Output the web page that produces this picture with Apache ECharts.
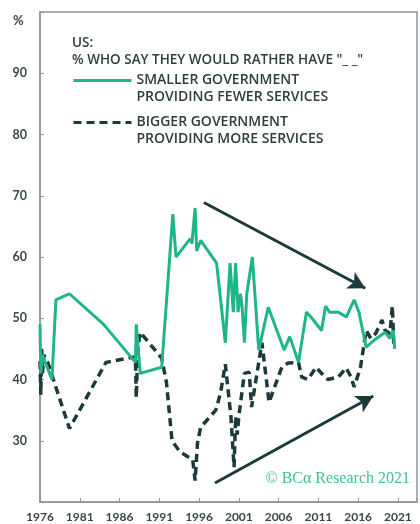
<!DOCTYPE html>
<html>
<head>
<meta charset="utf-8">
<script src="https://cdn.jsdelivr.net/npm/echarts@6/dist/echarts.min.js"></script>
<style>
  html, body { margin: 0; padding: 0; background: #fff; }
  #chart { width: 420px; height: 524px; }
</style>
</head>
<body>
<div id="chart"></div>
<script>
// smaller government, providing fewer services
var smallerYears = [1976.0, 1976.1, 1976.3, 1977.5, 1978.0, 1979.7, 1984.0, 1988.0, 1988.1, 1988.6,
  1991.3, 1992.7, 1993.1, 1994.9, 1995.1, 1995.5, 1995.7, 1996.2, 1998.2, 1999.3,
  1999.9, 2000.3, 2000.6, 2000.9, 2001.2, 2001.4, 2001.7, 2002.0, 2002.7, 2003.5,
  2004.7, 2006.7, 2007.4, 2008.5, 2009.5, 2010.2, 2011.4, 2011.9, 2012.4, 2013.5,
  2014.5, 2015.5, 2016.1, 2017.0, 2018.0, 2019.4, 2020.0, 2020.4, 2020.6]
var smallerValues = [49, 41, 44, 40, 53, 54, 49, 42.8, 49, 41,
  42, 67, 60, 63, 62.2, 68, 61, 62.7, 59, 46,
  59, 51, 59, 51, 54, 52, 46, 54, 60, 44.8,
  51.8, 44.8, 47, 42.8, 51, 50, 48, 52, 51, 51,
  50.2, 53, 51, 45.3, 46.4, 47.7, 46.7, 48, 45]

// bigger government, providing more services
var biggerYears = [1976.0, 1976.1, 1976.2, 1976.3, 1976.5, 1977.0, 1979.7, 1984.3, 1988.0, 1988.1,
  1988.3, 1988.6, 1991.3, 1991.9, 1992.6, 1993.6, 1995.2, 1995.5, 1995.8, 1996.2,
  1998.1, 1998.7, 1999.3, 2000.0, 2000.4, 2000.6, 2000.8, 2001.0, 2001.7, 2002.3,
  2002.6, 2003.9, 2004.8, 2006.4, 2007.2, 2008.5, 2008.9, 2009.7, 2010.7, 2011.4,
  2012.2, 2013.5, 2014.5, 2015.1, 2015.5, 2016.3, 2017.0, 2017.6, 2018.2, 2019.0,
  2019.4, 2020.0, 2020.3, 2020.5]
var biggerValues = [43, 37.5, 45, 41, 44, 42.7, 32, 42.8, 43.7, 37,
  45, 47.7, 43.5, 39.5, 30, 28.2, 26.9, 23.5, 29.6, 32.2,
  35, 37.8, 42.5, 34, 25.7, 34, 31, 34, 41, 41.2,
  35.5, 46, 36.3, 42, 42.7, 42.8, 40.4, 40, 42, 41,
  40, 40.4, 41.9, 40.4, 38.8, 42, 48, 46.7, 47.5, 49.7,
  48, 47.5, 52, 45]

var seriesNames = ["SMALLER GOVERNMENT\nPROVIDING FEWER SERVICES", "BIGGER GOVERNMENT\nPROVIDING MORE SERVICES"]

// trend arrows, [from, to] in [year, %]
var arrowDown = [[1996.6, 68.9], [2016.9, 54.9]]
var arrowUp = [[1998.0, 23.1], [2017.9, 37.3]]

var green = "#1fb589"
var dark = "#1c3a3a"
var axisGray = "#8c9898"
var labelColor = "#3a4848"
var textColor = "#2e3d3d"

function pairs(xs, ys){
    return xs.map(function(x, i){ return [x, ys[i]] })
}

// one legend per series so each can be placed on its own
function legendFor(name, top){
    return {
        orient: "vertical",
        left: 67,
        top: top,
        itemWidth: 58,
        itemHeight: 14,
        selectedMode: false,
        itemStyle: { opacity: 0 },
        lineStyle: { width: 3 },
        // blank first line pushes the label down so its first line sits on the icon
        formatter: function(n){ return " \n" + n },
        textStyle: {
            fontFamily: "Open Sans",
            fontWeight: 600,
            fontSize: 14,
            lineHeight: 17,
            color: textColor
        },
        data: [name]
    }
}

var chart = echarts.init(document.getElementById("chart"))
var option = {
    animation: false,
    title: {
        text: "US:\n% WHO SAY THEY WOULD RATHER HAVE \"_ _\"",
        left: 67,
        top: 30,
        textStyle: {
            fontFamily: "Open Sans",
            fontWeight: 600,
            fontSize: 13.5,
            lineHeight: 17,
            color: textColor
        }
    },
    legend: [legendFor(seriesNames[0], 50), legendFor(seriesNames[1], 92)],
    grid: {
        left: 40,
        right: -2,
        top: 12,
        bottom: 22,
        show: true,
        borderColor: axisGray,
        borderWidth: 1.5
    },
    xAxis: {
        type: "value",
        min: 1976,
        max: 2023.4,
        interval: 5,
        splitLine: { show: false },
        axisLine: { lineStyle: { color: axisGray, width: 1.5 } },
        axisTick: { inside: true, length: 4, lineStyle: { color: axisGray } },
        axisLabel: {
            margin: 9,
            fontFamily: "Lato",
            fontWeight: "bold",
            fontSize: 12,
            color: labelColor,
            formatter: function(v){ return (v - 1976) % 5 === 0 ? String(v) : "" }
        }
    },
    yAxis: {
        type: "value",
        min: 20,
        max: 100,
        interval: 10,
        splitLine: { show: false },
        axisLine: { show: true, lineStyle: { color: axisGray, width: 1.5 } },
        axisTick: { show: true, inside: true, length: 4, lineStyle: { color: axisGray } },
        axisLabel: {
            margin: 13,
            fontFamily: "Lato",
            fontWeight: "bold",
            fontSize: 12.5,
            color: labelColor,
            formatter: function(v){ return (v === 20 || v === 100) ? "" : v }
        }
    },
    graphic: [
        {
            type: "text",
            left: 13,
            top: 14,
            style: { text: "%", fontFamily: "Lato", fontWeight: "bold", fontSize: 13, fill: labelColor }
        },
        {
            type: "text",
            right: 10,
            top: 471,
            style: { text: "© BCα Research 2021", fontFamily: "Liberation Serif", fontSize: 16, fill: "#3fc195" }
        }
    ],
    series: [
        {
            name: seriesNames[0],
            type: "line",
            symbol: "none",
            z: 3,
            lineStyle: { color: green, width: 3 },
            itemStyle: { color: green },
            data: pairs(smallerYears, smallerValues)
        },
        {
            name: seriesNames[1],
            type: "line",
            symbol: "none",
            z: 2,
            lineStyle: { color: dark, width: 3.5, type: [8, 5] },
            itemStyle: { color: dark },
            data: pairs(biggerYears, biggerValues),
            markLine: {
                silent: true,
                symbol: ["none", "arrow"],
                symbolSize: [14, 17],
                label: { show: false },
                lineStyle: { color: dark, width: 3, type: "solid" },
                data: [
                    [{ coord: arrowDown[0] }, { coord: arrowDown[1] }],
                    [{ coord: arrowUp[0] }, { coord: arrowUp[1] }]
                ]
            }
        }
    ]
}
chart.setOption(option)
</script>
</body>
</html>
